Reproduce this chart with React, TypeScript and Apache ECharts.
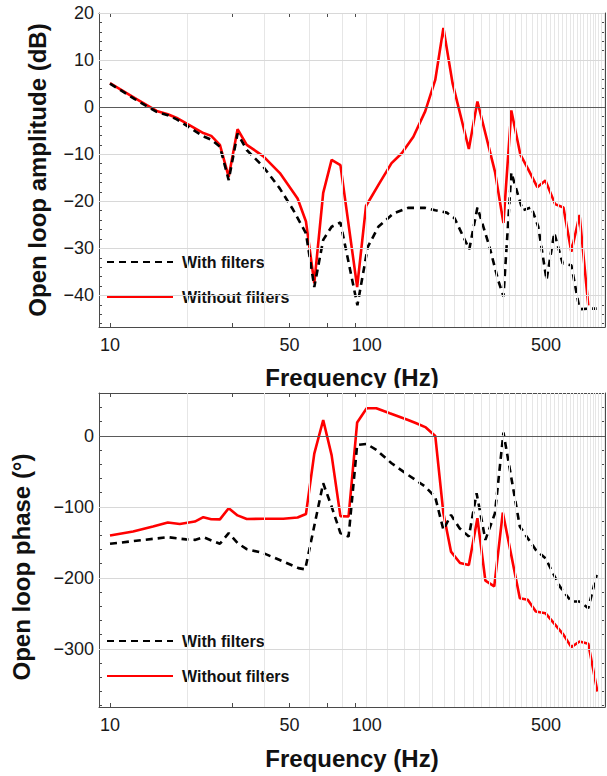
import React, { useEffect, useRef } from "react";
import * as echarts from "echarts";

// ---------- Data ----------
// Amplitude panel (dB)
const ampFreqWithout = [10, 12.5, 15.2, 16.8, 18.2, 23.1, 24.8, 26.8, 29, 31.4, 34.1, 39.5, 45.9, 53.8, 58, 62.5, 67.7, 73, 79, 91.8, 99.4, 112, 125, 137, 152, 169, 185, 199, 216, 250, 270, 316, 341, 366, 397, 424, 462, 497, 542, 584, 627, 675, 730];
const ampWithout = [5.1, 1.9, -0.8, -1.5, -2.3, -5.5, -6.1, -8.0, -14.8, -4.7, -8.0, -10.4, -14.0, -19.4, -24.3, -37.4, -18.2, -11.2, -12.3, -38.2, -21.0, -16.2, -11.9, -9.8, -6.3, -0.9, 5.8, 16.8, 5.1, -8.9, 1.2, -13.7, -24.6, -0.7, -10.1, -13.0, -17.0, -15.6, -20.6, -21.3, -30.7, -22.9, -42.1];

const ampFreqWith = [10, 12.5, 15.2, 16.8, 18.2, 23.1, 24.8, 26.8, 29, 31.4, 34.1, 39.5, 45.9, 51.7, 58, 62.5, 67.7, 73, 79, 92, 101, 111, 127, 145, 169, 185, 205, 220, 251, 270, 301, 325, 341, 366, 405, 438, 466, 502, 538, 580, 627, 675, 730, 787];
const ampWith = [5.0, 1.7, -1.0, -1.7, -2.6, -6.2, -6.9, -8.4, -15.5, -5.6, -9.1, -12.6, -17.3, -21.8, -26.8, -38.2, -28.2, -25.4, -24.5, -42.1, -29.7, -25.4, -22.6, -21.4, -21.4, -21.9, -22.4, -23.6, -30.2, -21.3, -29.7, -36.7, -40.2, -13.9, -21.9, -21.3, -25.4, -36.7, -26.7, -33.2, -33.6, -42.9, -42.8, -42.8];

// Phase panel (degrees)
const phaseFreqWithout = [10, 12.3, 14.7, 16.8, 18.7, 21.4, 23.1, 24.8, 26.8, 29, 31.4, 34.1, 39.5, 47.3, 53.8, 58, 62.5, 67.7, 73, 79, 85, 91.8, 100, 109, 123, 145, 156, 170, 185, 199, 213, 231, 250, 270, 290, 314, 339, 395, 424, 456, 497, 542, 584, 627, 675, 730, 792];
const phaseWithout = [-140.4, -134.7, -127.7, -122, -124, -120.7, -114.5, -117.4, -117.6, -101.9, -112, -117, -116.8, -116.8, -115, -110, -25, 22.5, -27, -113, -113.5, 19, 39, 39, 32, 22.5, 17.8, 12, 0, -109, -163, -179, -182, -116, -204, -212, -108, -228.6, -231, -247.4, -249.8, -266, -280, -297.6, -289.7, -293, -360];

const phaseFreqWith = [10, 16.8, 19.8, 21.4, 23.1, 26.8, 29, 31.4, 34.1, 39.5, 47.3, 54.2, 57.6, 67.7, 73, 79, 85, 91.8, 100, 109, 125, 145, 169, 185, 199, 213, 230, 250, 268, 290, 316, 341, 395, 456, 497, 565, 627, 675, 730, 787];
const phaseWith = [-152, -142.7, -145.8, -146.5, -142.7, -152, -137, -151, -159.6, -165, -177, -186.3, -188, -66.6, -99.5, -137, -141.8, -12.7, -11.3, -19.7, -38.5, -55, -71.4, -86.4, -132.4, -111.3, -130, -141.8, -80.7, -146.5, -108.9, 4.7, -127.7, -160.6, -172.3, -212, -233.4, -233.4, -242.7, -195.8];

// Axis ticks / labels
const xTickValues = [10, 20, 30, 40, 50, 60, 70, 80, 90, 100, 200, 300, 400, 500, 600, 700, 800];
const xLabelValues = [10, 50, 100, 500];
const ampMajorTicks = [-40, -30, -20, -10, 0, 10, 20];
const phaseMajorTicks = [-300, -200, -100, 0];

const FONT = "'Liberation Sans', Arial, Helvetica, sans-serif";
const X_MIN = 9.06;
const X_MAX = 848;

const zip = (xs: number[], ys: number[]) => xs.map((x, i) => [x, ys[i]]);

const fmtNum = (v: number) => (v < 0 ? "\u2212" + Math.abs(v) : String(v));

function range(a: number, b: number, step: number) {
  const out: number[] = [];
  for (let v = a; v <= b + 1e-9; v += step) out.push(Math.round(v * 1000) / 1000);
  return out;
}

const xGridValues = range(20, 840, 20);
const ampMinorTicks = range(-46, 18, 2).filter((v) => v % 10 !== 0);
const phaseMinorTicks = range(-380, 60, 20).filter((v) => v % 100 !== 0);

function buildOption() {
  const frameColor = "#4a4a4a";
  const grids = [
    { left: 99, top: 13, width: 506, height: 314, outerBoundsMode: "none" },
    { left: 99, top: 393, width: 506, height: 314, outerBoundsMode: "none" },
  ];
  const axLine = { show: true, onZero: false, lineStyle: { color: frameColor, width: 1 } };

  const xAxes: any[] = [];
  const yAxes: any[] = [];
  [0, 1].forEach((g) => {
    xAxes.push({
      type: "log",
      gridIndex: g,
      position: "bottom",
      min: X_MIN,
      max: X_MAX,
      axisLine: axLine,
      axisTick: { show: true, inside: true, length: 4, customValues: xTickValues, lineStyle: { color: frameColor } },
      axisLabel: {
        show: true,
        customValues: xLabelValues,
        formatter: (v: number) => String(Math.round(v)),
        fontSize: 18,
        color: "#1a1a1a",
        fontFamily: FONT,
        margin: 9,
      },
      splitLine: { show: false },
      minorTick: { show: false },
      name: "Frequency (Hz)",
      nameLocation: "middle",
      nameGap: g === 0 ? 38 : 39,
      nameTextStyle: { fontSize: 24, fontWeight: "bold", color: "#111", fontFamily: FONT },
    });
    xAxes.push({
      type: "log",
      gridIndex: g,
      position: "top",
      min: X_MIN,
      max: X_MAX,
      axisLine: axLine,
      axisTick: { show: true, inside: true, length: 4, customValues: xTickValues, lineStyle: { color: frameColor } },
      axisLabel: { show: false },
      splitLine: { show: false },
    });

    const isAmp = g === 0;
    const yMin = isAmp ? -46.7 : -382;
    const yMax = isAmp ? 20 : 60.5;
    const major = isAmp ? ampMajorTicks : phaseMajorTicks;
    const minor = isAmp ? ampMinorTicks : phaseMinorTicks;
    // left major
    yAxes.push({
      type: "value",
      gridIndex: g,
      position: "left",
      min: yMin,
      max: yMax,
      axisLine: axLine,
      axisTick: { show: true, inside: true, length: 5, customValues: major, lineStyle: { color: frameColor } },
      axisLabel: {
        show: true,
        customValues: major,
        formatter: fmtNum,
        fontSize: 18,
        color: "#1a1a1a",
        fontFamily: FONT,
        margin: 5,
      },
      splitLine: { show: false },
      name: isAmp ? "Open loop amplitude (dB)" : "Open loop phase (\u00b0)",
      nameLocation: "middle",
      nameRotate: 90,
      nameGap: isAmp ? 50 : 66,
      nameTextStyle: {
        fontSize: 24,
        fontWeight: "bold",
        color: "#111",
        fontFamily: FONT,
        padding: isAmp ? [0, 0, 0, 0] : [0, 34, 0, 0],
      },
    });
    // left minor
    yAxes.push({
      type: "value",
      gridIndex: g,
      position: "left",
      min: yMin,
      max: yMax,
      axisLine: { show: false, onZero: false },
      axisTick: { show: true, inside: true, length: 3, customValues: minor, lineStyle: { color: frameColor } },
      axisLabel: { show: false },
      splitLine: { show: false },
    });
    // right major
    yAxes.push({
      type: "value",
      gridIndex: g,
      position: "right",
      min: yMin,
      max: yMax,
      axisLine: axLine,
      axisTick: { show: true, inside: true, length: 5, customValues: major, lineStyle: { color: frameColor } },
      axisLabel: { show: false },
      splitLine: { show: false },
    });
    // right minor
    yAxes.push({
      type: "value",
      gridIndex: g,
      position: "right",
      min: yMin,
      max: yMax,
      axisLine: { show: false, onZero: false },
      axisTick: { show: true, inside: true, length: 3, customValues: minor, lineStyle: { color: frameColor } },
      axisLabel: { show: false },
      splitLine: { show: false },
    });
  });

  const gridSeries = (g: number) => {
    const major = g === 0 ? ampMajorTicks : phaseMajorTicks;
    return {
      type: "line",
      name: "grid" + g,
      xAxisIndex: g * 2,
      yAxisIndex: g * 4,
      data: [],
      z: 1,
      silent: true,
      symbol: "none",
      markLine: {
        silent: true,
        symbol: ["none", "none"],
        label: { show: false },
        emphasis: { disabled: true },
        data: [
          ...xGridValues.map((v) => ({ xAxis: v, lineStyle: { color: "#e6e6e6", width: 1, type: "solid" } })),
          ...major
            .filter((v) => v !== 0)
            .map((v) => ({ yAxis: v, lineStyle: { color: "#d8d8d8", width: 1, type: "solid" } })),
          { yAxis: 0, lineStyle: { color: "#5a5a5a", width: 1.2, type: "solid" } },
        ],
      },
    };
  };

  const lineSeries = (g: number, name: string, xs: number[], ys: number[], color: string, dashed: boolean) => ({
    type: "line",
    name,
    xAxisIndex: g * 2,
    yAxisIndex: g * 4,
    data: zip(xs, ys),
    symbol: "none",
    showSymbol: false,
    z: dashed ? 4 : 3,
    lineStyle: { color, width: 2.6, type: dashed ? [7, 5] : "solid", cap: "butt" },
    itemStyle: { color },
  });

  const legendBase = (top: number) => ({
    orient: "vertical",
    left: 106,
    top,
    padding: 0,
    itemWidth: 66,
    itemHeight: 14,
    itemGap: 17,
    selectedMode: false,
    itemStyle: { opacity: 0 },
    data: ["With filters", "Without filters"],
    textStyle: {
      fontSize: 16,
      fontWeight: "bold",
      color: "#111",
      fontFamily: FONT,
      padding: [1, 2, 1, 4],
      backgroundColor: "#ffffff",
    },
  });

  return {
    animation: false,
    backgroundColor: "#ffffff",
    grid: grids,
    xAxis: xAxes,
    yAxis: yAxes,
    legend: [legendBase(253), legendBase(632)],
    graphic: [
      {
        type: "rect",
        z: 100,
        shape: { x: 0, y: 388, width: 607, height: 4 },
        style: { fill: "#ffffff" },
        silent: true,
      },
    ],
    series: [
      gridSeries(0),
      gridSeries(1),
      lineSeries(0, "With filters", ampFreqWith, ampWith, "#000000", true),
      lineSeries(0, "Without filters", ampFreqWithout, ampWithout, "#ff0000", false),
      lineSeries(1, "With filters", phaseFreqWith, phaseWith, "#000000", true),
      lineSeries(1, "Without filters", phaseFreqWithout, phaseWithout, "#ff0000", false),
    ],
  };
}

export default function App() {
  const ref = useRef<HTMLDivElement>(null);
  useEffect(() => {
    document.body.style.margin = "0";
    if (!ref.current) return;
    const chart = echarts.init(ref.current, undefined, { renderer: "svg" });
    chart.setOption(buildOption() as any);
    return () => chart.dispose();
  }, []);
  return <div ref={ref} style={{ width: 607, height: 776, background: "#fff" }} />;
}
